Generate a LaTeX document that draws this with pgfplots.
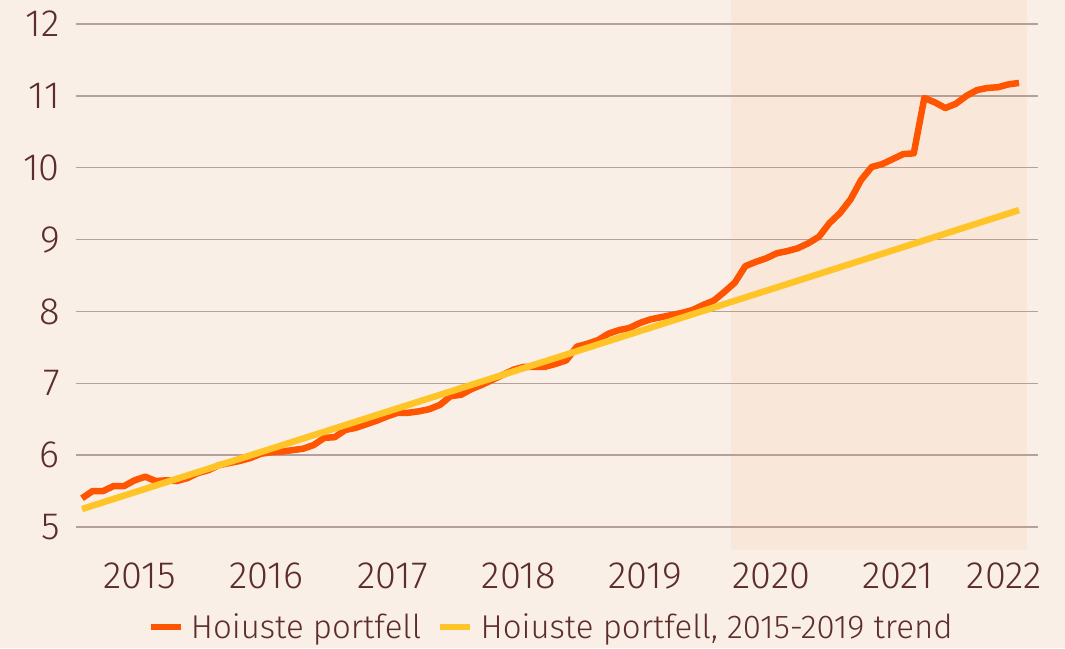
\documentclass[border=0pt]{standalone}
\usepackage{pgfplots}
\pgfplotsset{compat=1.18}
\usepackage{fontspec}
\setmainfont{Fira Sans Light}
\definecolor{bg}{RGB}{249,239,230}
\definecolor{shadec}{RGB}{255,150,70}
\definecolor{orangeline}{RGB}{255,85,0}
\definecolor{yellowline}{RGB}{255,197,40}
\definecolor{txt}{RGB}{92,45,42}
\definecolor{gridc}{RGB}{180,160,157}
\pgfplotstableread{
m v
0 5.40
1 5.50
2 5.50
3 5.57
4 5.57
5 5.65
6 5.70
7 5.64
8 5.65
9 5.64
10 5.68
11 5.75
12 5.79
13 5.86
14 5.89
15 5.92
16 5.96
17 6.02
18 6.04
19 6.05
20 6.07
21 6.09
22 6.14
23 6.24
24 6.25
25 6.35
26 6.38
27 6.43
28 6.48
29 6.54
30 6.59
31 6.59
32 6.61
33 6.64
34 6.70
35 6.82
36 6.84
37 6.92
38 6.98
39 7.05
40 7.12
41 7.19
42 7.23
43 7.23
44 7.23
45 7.27
46 7.32
47 7.51
48 7.55
49 7.60
50 7.69
51 7.74
52 7.77
53 7.84
54 7.89
55 7.92
56 7.95
57 7.98
58 8.02
59 8.09
60 8.15
61 8.27
62 8.40
63 8.63
64 8.69
65 8.74
66 8.81
67 8.84
68 8.88
69 8.95
70 9.04
71 9.23
72 9.37
73 9.56
74 9.83
75 10.01
76 10.05
77 10.12
78 10.19
79 10.20
80 10.97
81 10.91
82 10.83
83 10.89
84 11.00
85 11.08
86 11.11
87 11.12
88 11.16
89 11.18
}\deposits
\pgfplotstableread{
m v
0 5.25
89 9.41
}\trend
\begin{document}
\begin{tikzpicture}
\fill[bg] (0,0) rectangle (1065pt,648pt);
\begin{axis}[
  at={(76pt,98pt)}, anchor=south west,
  scale only axis, width=962pt, height=550pt,
  xmin=-0.57, xmax=90.8, ymin=4.68, ymax=12.334,
  axis line style={draw=none},
  major tick length=0pt,
  tick style={draw=none},
  ytick={5,6,7,8,9,10,11,12},
  ymajorgrids,
  grid style={color=gridc, line width=1.5pt},
  xtick={5.5,17.5,29.5,41.5,53.5,65.5,77.5,87.6},
  xticklabels={2015,2016,2017,2018,2019,2020,2021,2022},
  ticklabel style={font=\fontsize{38}{42}\selectfont, text=txt},
  /pgf/number format/assume math mode=true,
  yticklabel style={anchor=east, inner sep=0pt, xshift=-16pt},
  xticklabel style={anchor=north, inner sep=0pt, yshift=-13pt},
  legend style={at={(0.4927,-0.14)}, anchor=center, draw=none, fill=none,
    font=\fontsize{33}{36}\selectfont, text=txt, legend columns=2,
    nodes={inner sep=0pt},
    /tikz/every odd column/.append style={column sep=7pt},
    /tikz/every even column/.append style={column sep=16pt}},
  legend image code/.code={\draw[#1, line width=6.5pt] (0pt,0pt) -- (30pt,0pt);},
  clip=false,
]
\addplot[draw=none, fill=shadec, fill opacity=0.08, forget plot]
  coordinates {(61.6,4.68) (61.6,12.334) (89.8,12.334) (89.8,4.68)} -- cycle;
\addplot[orangeline, line width=6.5pt, line join=round] table[x=m, y=v] {\deposits};
\addlegendentry{Hoiuste portfell}
\addplot[yellowline, line width=6.5pt] table[x=m, y=v] {\trend};
\addlegendentry{Hoiuste portfell, 2015-2019 trend}
\end{axis}
\pgfresetboundingbox
\path (0,0) rectangle (1065pt,648pt);
\end{tikzpicture}
\end{document}
